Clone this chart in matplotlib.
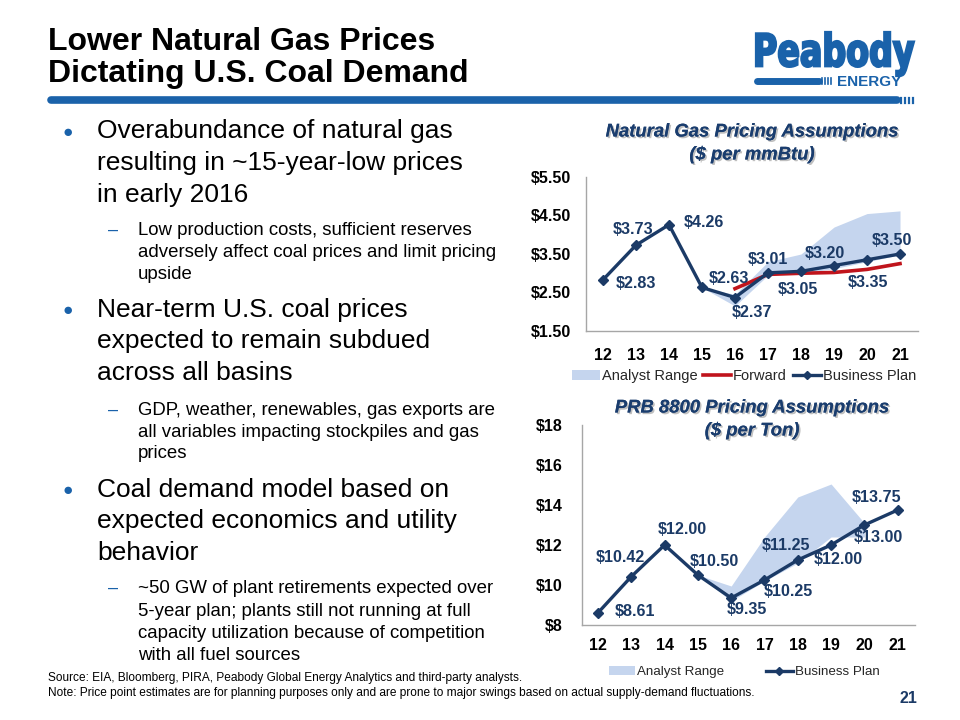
import matplotlib
matplotlib.use('Agg')
import matplotlib.pyplot as plt
import matplotlib.patheffects as pe
from matplotlib.lines import Line2D
from matplotlib.patches import Patch, PathPatch
from matplotlib.textpath import TextPath
from matplotlib.font_manager import FontProperties
from matplotlib.transforms import Affine2D

plt.rcParams['font.family'] = ['Liberation Sans', 'DejaVu Sans']

# ---- data ----
years = [12, 13, 14, 15, 16, 17, 18, 19, 20, 21]
gas_plan = [2.83, 3.73, 4.26, 2.63, 2.37, 3.01, 3.05, 3.20, 3.35, 3.50]
gas_fwd_years = [16, 17, 18, 19, 20, 21]
gas_forward = [2.60, 2.97, 3.00, 3.02, 3.10, 3.25]
gas_rng_years = [15, 16, 17, 18, 19, 20, 21]
gas_rng_low = [2.63, 2.15, 2.95, 3.00, 3.12, 3.30, 3.48]
gas_rng_high = [2.63, 2.45, 3.30, 3.50, 4.20, 4.55, 4.62]

prb_plan = [8.61, 10.42, 12.00, 10.50, 9.35, 10.25, 11.25, 12.00, 13.00, 13.75]
prb_rng_years = [15, 16, 17, 18, 19, 20]
prb_rng_low = [10.50, 9.20, 10.20, 11.10, 12.40, 12.40]
prb_rng_high = [10.50, 9.95, 12.40, 14.40, 15.05, 13.10]

# label offsets in pixels (dx, dy) for each point
gas_offsets = [(33, -4), (-3, 16), (35, 2), (27, 9), (17, -15),
               (0, 13), (-3, -18), (-9, 12), (1, -23), (-8, 13)]
prb_offsets = [(37, 1), (-11, 19), (18, 15), (16, 13), (16, -12),
               (24, -11), (-12, 14), (7, -15), (14, -12), (-21, 13)]

navy = '#1b3a66'
title_navy = '#1a3d6e'
fill_c = '#c5d5ee'
red = '#c0141c'
blue = '#1a62aa'
W, H = 960, 720

fig = plt.figure(figsize=(9.6, 7.2), dpi=100)

# overlay for slide text (pixel coordinates)
bg = fig.add_axes([0, 0, 1, 1])
bg.set_xlim(0, W)
bg.set_ylim(H, 0)
bg.axis('off')

bg.text(48, 50, 'Lower Natural Gas Prices', fontsize=23, fontweight='bold', va='baseline')
bg.text(48, 82, 'Dictating U.S. Coal Demand', fontsize=23, fontweight='bold', va='baseline')
bg.plot([51, 897], [100, 100], color=blue, lw=5.5, solid_capstyle='round')
for sx in [901, 905, 909, 913]:
    bg.plot([sx, sx], [97.5, 103], color=blue, lw=1.6)

# logo
fp = FontProperties(family=['DejaVu Sans'], weight='bold')
tp = TextPath((0, 0), 'Peabody', prop=fp, size=50)
bb = tp.get_extents()
sxl = 158 / bb.width
syl = 44 / bb.height
tr = Affine2D().translate(-bb.x0, -bb.y0).scale(sxl, -syl).translate(756, 76)
bg.add_patch(PathPatch(tr.transform_path(tp), facecolor=blue, edgecolor=blue, lw=1.6))
bg.plot([757, 819], [80.5, 80.5], color=blue, lw=5, solid_capstyle='round')
for sx in [822, 825, 828, 831]:
    bg.plot([sx, sx], [78, 83.5], color=blue, lw=1.2)
bg.text(837, 86, 'ENERGY', fontsize=11, fontweight='bold', color=blue, va='baseline')

# bullets
main_fs = 19
sub_fs = 13.4
blocks = [
    ('main', ['Overabundance of natural gas', 'resulting in ~15-year-low prices', 'in early 2016'], [138, 170, 202]),
    ('sub', ['Low production costs, sufficient reserves', 'adversely affect coal prices and limit pricing', 'upside'], [235, 257, 279]),
    ('main', ['Near-term U.S. coal prices', 'expected to remain subdued', 'across all basins'], [317, 348, 380]),
    ('sub', ['GDP, weather, renewables, gas exports are', 'all variables impacting stockpiles and gas', 'prices'], [415, 437, 458]),
    ('main', ['Coal demand model based on', 'expected economics and utility', 'behavior'], [497, 528, 560]),
    ('sub', ['~50 GW of plant retirements expected over', '5-year plan; plants still not running at full',
             'capacity utilization because of competition', 'with all fuel sources'], [593, 616, 638, 660]),
]
for kind, lines, ys in blocks:
    if kind == 'main':
        bg.text(68, ys[0] - 6, '\u25cf', fontsize=12.5, color=blue, ha='center', va='center')
        for t, y in zip(lines, ys):
            bg.text(97, y, t, fontsize=main_fs, va='baseline')
    else:
        bg.text(113, ys[0] - 5, '\u2013', fontsize=13, color=blue, ha='center', va='center')
        for t, y in zip(lines, ys):
            bg.text(138, y, t, fontsize=sub_fs, va='baseline')

bg.text(48, 681, 'Source: EIA, Bloomberg, PIRA, Peabody Global Energy Analytics and third-party analysts.',
        fontsize=8.6, va='baseline')
bg.text(48, 696, 'Note: Price point estimates are for planning purposes only and are prone to major swings '
        'based on actual supply-demand fluctuations.', fontsize=8.6, va='baseline')
bg.text(908, 703, '21', fontsize=11.5, fontweight='bold', color=navy, ha='center', va='baseline')


def style_axes(ax, ypad, xpad):
    for s in ['top', 'right']:
        ax.spines[s].set_visible(False)
    for s in ['left', 'bottom']:
        ax.spines[s].set_color('#a6a6a6')
        ax.spines[s].set_linewidth(1)
    ax.tick_params(axis='both', length=0, labelsize=11.5)
    ax.tick_params(axis='y', pad=ypad)
    ax.tick_params(axis='x', pad=xpad)
    for lab in ax.get_xticklabels() + ax.get_yticklabels():
        lab.set_fontweight('bold')
    ax.set_facecolor('none')


def chart_title(x, y1, y2, l1, l2):
    eff = [pe.withSimplePatchShadow(offset=(1.2, -1.2), shadow_rgbFace='#808080', alpha=0.5), pe.Normal()]
    for t, y in [(l1, y1), (l2, y2)]:
        bg.text(x, y, t, fontsize=13.3, fontweight='bold', fontstyle='italic', color=title_navy,
                ha='center', va='center', path_effects=eff)


# ---- top chart ----
ax1 = fig.add_axes([586 / W, 1 - 331 / H, 332 / W, 154 / H])
ax1.fill_between(gas_rng_years, gas_rng_low, gas_rng_high, color=fill_c, lw=0, zorder=1)
ax1.plot(gas_fwd_years, gas_forward, color=red, lw=2.6, zorder=2)
ax1.plot(years, gas_plan, color=navy, lw=2.4, marker='D', markersize=5, zorder=3)
for x, v, (dx, dy) in zip(years, gas_plan, gas_offsets):
    ax1.annotate('$%.2f' % v, (x, v), xytext=(dx, dy), textcoords='offset pixels',
                 ha='center', va='center', fontsize=11.6, fontweight='bold', color=navy, zorder=4)
ax1.set_xlim(11.485, 21.545)
ax1.set_ylim(1.5, 5.5)
ax1.set_xticks(years)
ax1.set_yticks([1.5, 2.5, 3.5, 4.5, 5.5])
ax1.set_yticklabels(['$%.2f' % v for v in [1.5, 2.5, 3.5, 4.5, 5.5]])
style_axes(ax1, 11, 12)
chart_title(752, 132, 155, 'Natural Gas Pricing Assumptions', '($ per mmBtu)')

h1 = [Patch(color=fill_c, lw=0), Line2D([], [], color=red, lw=2.6),
      Line2D([], [], color=navy, lw=2.4, marker='D', markersize=4)]
fig.legend(h1, ['Analyst Range', 'Forward', 'Business Plan'], loc='center',
           bbox_to_anchor=(744 / W, 1 - 376 / H), ncol=3, frameon=False, fontsize=10.5,
           handlelength=1.9, handletextpad=0.15, columnspacing=0.4, labelcolor='#262626')

# ---- bottom chart ----
ax2 = fig.add_axes([582 / W, 1 - 625 / H, 333 / W, 200 / H])
ax2.fill_between(prb_rng_years, prb_rng_low, prb_rng_high, color=fill_c, lw=0, zorder=1)
ax2.plot(years, prb_plan, color=navy, lw=2.4, marker='D', markersize=5, zorder=3)
for x, v, (dx, dy) in zip(years, prb_plan, prb_offsets):
    ax2.annotate('$%.2f' % v, (x, v), xytext=(dx, dy), textcoords='offset pixels',
                 ha='center', va='center', fontsize=11.6, fontweight='bold', color=navy, zorder=4)
ax2.set_xlim(11.52, 21.52)
ax2.set_ylim(8, 18)
ax2.set_xticks(years)
ax2.set_yticks([8, 10, 12, 14, 16, 18])
ax2.set_yticklabels(['$%d' % v for v in [8, 10, 12, 14, 16, 18]])
style_axes(ax2, 14, 9)
chart_title(752, 408, 431, 'PRB 8800 Pricing Assumptions', '($ per Ton)')

h2 = [Patch(color=fill_c, lw=0), Line2D([], [], color=navy, lw=2.4, marker='D', markersize=4)]
fig.legend(h2, ['Analyst Range', 'Business Plan'], loc='center',
           bbox_to_anchor=(744 / W, 1 - 672 / H), ncol=2, frameon=False, fontsize=9.6,
           handlelength=2.0, handletextpad=0.15, columnspacing=3.1, labelcolor='#262626')

fig.savefig('out.png', dpi=100)
